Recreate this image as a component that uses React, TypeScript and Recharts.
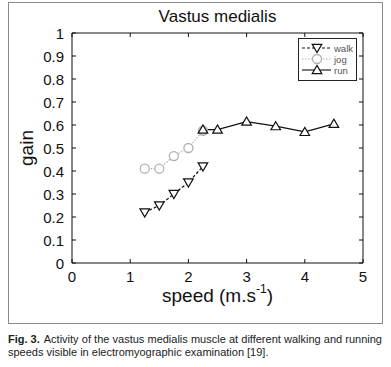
import React from 'react';
import { LineChart, Line, XAxis, YAxis } from 'recharts';

const walkSpeed = [1.25, 1.5, 1.75, 2.0, 2.25];
const walkGain = [0.22, 0.25, 0.3, 0.35, 0.42];
const jogSpeed = [1.25, 1.5, 1.75, 2.0, 2.25];
const jogGain = [0.41, 0.41, 0.465, 0.5, 0.575];
const runSpeed = [2.25, 2.5, 3.0, 3.5, 4.0, 4.5];
const runGain = [0.58, 0.58, 0.615, 0.595, 0.57, 0.605];

const xTicks = [0, 1, 2, 3, 4, 5];
const yTicks = [0, 0.1, 0.2, 0.3, 0.4, 0.5, 0.6, 0.7, 0.8, 0.9, 1];

const toRows = (xs: number[], ys: number[]) => xs.map((x, i) => ({ speed: x, gain: ys[i] }));

const walk = toRows(walkSpeed, walkGain);
const jog = toRows(jogSpeed, jogGain);
const run = toRows(runSpeed, runGain);

const FONT = 'Liberation Sans, Arial, Helvetica, sans-serif';
const JOG_GREY = '#b0b0b0';

function TriDown({ cx, cy, stroke = '#111' }: any) {
  const s = 4.8;
  return (
    <path
      d={`M${cx - s},${cy - s * 0.75} L${cx + s},${cy - s * 0.75} L${cx},${cy + s * 0.95} Z`}
      fill="#fff"
      stroke={stroke}
      strokeWidth={1.2}
    />
  );
}

function TriUp({ cx, cy, stroke = '#111' }: any) {
  const s = 4.8;
  return (
    <path
      d={`M${cx - s},${cy + s * 0.75} L${cx + s},${cy + s * 0.75} L${cx},${cy - s * 0.95} Z`}
      fill="#fff"
      stroke={stroke}
      strokeWidth={1.2}
    />
  );
}

function Ring({ cx, cy, stroke = JOG_GREY }: any) {
  return <circle cx={cx} cy={cy} r={4.5} fill="#fff" stroke={stroke} strokeWidth={1.3} />;
}

function BottomTick({ x, y, payload }: any) {
  return (
    <g>
      <line x1={x} y1={y} x2={x} y2={y - 4} stroke="#111" />
      <text x={x} y={y + 19} textAnchor="middle" fontSize={15} fontFamily={FONT} fill="#111">
        {payload.value}
      </text>
    </g>
  );
}

function TopTick({ x, y }: any) {
  return <line x1={x} y1={y} x2={x} y2={y + 4} stroke="#111" />;
}

function LeftTick({ x, y, payload }: any) {
  return (
    <g>
      <line x1={x} y1={y} x2={x + 4} y2={y} stroke="#111" />
      <text x={x - 8} y={y + 5.5} textAnchor="end" fontSize={15} fontFamily={FONT} fill="#111">
        {payload.value}
      </text>
    </g>
  );
}

function RightTick({ x, y }: any) {
  return <line x1={x} y1={y} x2={x - 4} y2={y} stroke="#111" />;
}

function LegendBox() {
  const rows = [
    { name: 'walk', dash: '3 2', color: '#111', Mark: TriDown },
    { name: 'jog', dash: '1.5 1.5', color: JOG_GREY, Mark: Ring },
    { name: 'run', dash: undefined, color: '#111', Mark: TriUp },
  ];
  return (
    <svg width={59} height={43} style={{ display: 'block' }}>
      <rect x={0.5} y={0.5} width={58} height={42} fill="#fff" stroke="#222" />
      {rows.map((r, i) => {
        const cy = 10 + i * 11;
        return (
          <g key={r.name}>
            <line x1={4} x2={33} y1={cy} y2={cy} stroke={r.color} strokeDasharray={r.dash} strokeWidth={1.1} />
            <r.Mark cx={19} cy={cy} />
            <text x={36} y={cy + 3.5} fontSize={9.5} fontFamily={FONT} fill="#555">
              {r.name}
            </text>
          </g>
        );
      })}
    </svg>
  );
}

export default function App() {
  return (
    <div style={{ position: 'absolute', left: 0, top: 0, width: 391, height: 367, background: '#fff', fontFamily: FONT }}>
      <div
        style={{
          position: 'absolute',
          left: 8,
          top: 2,
          width: 373,
          height: 320,
          border: '1px solid #8a8a8a',
        }}
      />
      <div style={{ position: 'absolute', left: 0, top: 0 }}>
        <LineChart width={391} height={320} margin={{ top: 32, right: 27, left: 0, bottom: 0 }}>
          <XAxis
            xAxisId="b"
            dataKey="speed"
            type="number"
            domain={[0, 5]}
            ticks={xTicks}
            interval={0}
            height={57}
            tickSize={0}
            tickMargin={0}
            tickLine={false}
            axisLine={{ stroke: '#111' }}
            tick={<BottomTick />}
          />
          <XAxis
            xAxisId="t"
            dataKey="speed"
            orientation="top"
            type="number"
            domain={[0, 5]}
            ticks={xTicks}
            interval={0}
            height={1}
            tickSize={0}
            tickMargin={0}
            tickLine={false}
            axisLine={{ stroke: '#111' }}
            tick={<TopTick />}
          />
          <YAxis
            yAxisId="l"
            type="number"
            domain={[0, 1]}
            ticks={yTicks}
            interval={0}
            width={72}
            tickSize={0}
            tickMargin={0}
            tickLine={false}
            axisLine={{ stroke: '#111' }}
            tick={<LeftTick />}
          />
          <YAxis
            yAxisId="r"
            orientation="right"
            type="number"
            domain={[0, 1]}
            ticks={yTicks}
            interval={0}
            width={1}
            tickSize={0}
            tickMargin={0}
            tickLine={false}
            axisLine={{ stroke: '#111' }}
            tick={<RightTick />}
          />
          {/* invisible series so the mirrored top/right axes get drawn */}
          <Line
            xAxisId="t"
            yAxisId="r"
            data={run}
            dataKey="gain"
            stroke="none"
            dot={false}
            activeDot={false}
            legendType="none"
            isAnimationActive={false}
          />
          <Line
            xAxisId="b"
            yAxisId="l"
            data={jog}
            dataKey="gain"
            stroke={JOG_GREY}
            strokeWidth={1.2}
            strokeDasharray="1.5 1.5"
            dot={(p: any) => <Ring key={`j${p.index}`} cx={p.cx} cy={p.cy} />}
            activeDot={false}
            isAnimationActive={false}
          />
          <Line
            xAxisId="b"
            yAxisId="l"
            data={walk}
            dataKey="gain"
            stroke="#111"
            strokeWidth={1.2}
            strokeDasharray="3 2"
            dot={(p: any) => <TriDown key={`w${p.index}`} cx={p.cx} cy={p.cy} />}
            activeDot={false}
            isAnimationActive={false}
          />
          <Line
            xAxisId="b"
            yAxisId="l"
            data={run}
            dataKey="gain"
            stroke="#111"
            strokeWidth={1.2}
            dot={(p: any) => <TriUp key={`r${p.index}`} cx={p.cx} cy={p.cy} />}
            activeDot={false}
            isAnimationActive={false}
          />
        </LineChart>
      </div>
      <div style={{ position: 'absolute', left: 298, top: 38 }}>
        <LegendBox />
      </div>
      <div
        style={{
          position: 'absolute',
          top: 7,
          left: 72,
          width: 291,
          textAlign: 'center',
          fontSize: 17,
          color: '#111',
        }}
      >
        Vastus medialis
      </div>
      <div
        style={{
          position: 'absolute',
          left: 27,
          top: 148,
          transform: 'translate(-50%, -50%) rotate(-90deg)',
          fontSize: 19,
          color: '#111',
        }}
      >
        gain
      </div>
      <div
        style={{
          position: 'absolute',
          top: 285,
          left: 72,
          width: 291,
          textAlign: 'center',
          fontSize: 19,
          color: '#111',
        }}
      >
        speed (m.s<sup style={{ fontSize: 12, verticalAlign: 'top', position: 'relative', top: -3 }}>-1</sup>)
      </div>
      <div
        style={{
          position: 'absolute',
          top: 333,
          left: 8,
          width: 374,
          fontSize: 11,
          lineHeight: '13px',
          color: '#222',
        }}
      >
        <div style={{ display: 'flex' }}>
          <span style={{ fontWeight: 700, whiteSpace: 'nowrap' }}>Fig. 3.</span>
          <span style={{ flex: 1, marginLeft: 4, textAlign: 'justify', textAlignLast: 'justify', whiteSpace: 'normal' }}>
            Activity of the vastus medialis muscle at different walking and running
          </span>
        </div>
        <div>speeds visible in electromyographic examination [19].</div>
      </div>
    </div>
  );
}
